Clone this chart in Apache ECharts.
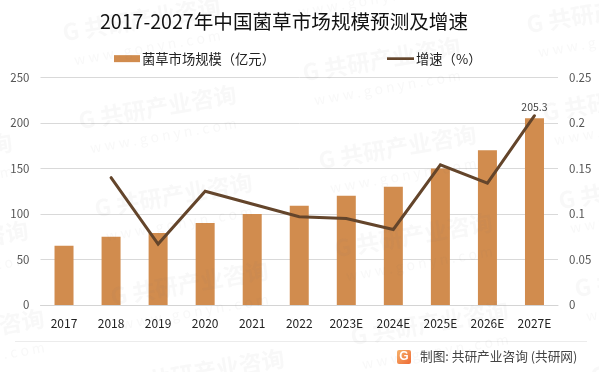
<!DOCTYPE html>
<html><head><meta charset="utf-8">
<style>html,body{margin:0;padding:0;background:#fff}#c{width:599px;height:372px}</style>
<script src="https://cdn.jsdelivr.net/npm/echarts@6/dist/echarts.min.js"></script>
</head><body><div id="c"></div>
<script>
const categories = ['2017','2018','2019','2020','2021','2022','2023E','2024E','2025E','2026E','2027E'];
const marketSize = [65,75,79,90,100,109,120,130,150,170,205.3];
const growth = [null,0.14,0.067,0.125,0.111,0.097,0.095,0.083,0.154,0.134,0.208];
const leftTicks = [0,50,100,150,200,250];
const titleText = '2017-2027年中国菌草市场规模预测及增速';
const sourceText = '制图: 共研产业咨询 (共研网)';
const barName = '菌草市场规模（亿元）';
const lineName = '增速（%）';
const font = '"Noto Sans CJK SC","Noto Sans",sans-serif';

const wm = [];
for (let i = -1; i <= 2; i++) for (let j = -1; j <= 4; j++) {
  const x = 65 + 240*i + 16*j, y = 45 + 40*i + 88*j;
  if (y < -30 || y > 400 || x > 620) continue;
  wm.push({type:'text',x:x,y:y,rotation:0.17,silent:true,z:50,
    style:{text:'G 共研产业咨询',x:0,y:-24,font:'bold 23px '+font,fill:'rgba(120,120,120,0.05)',textBaseline:'top'}});
  wm.push({type:'text',x:x+8,y:y+8,rotation:0.17,silent:true,z:50,
    style:{text:'w w w . g o n y n . c o m',x:0,y:0,font:'14px '+font,fill:'rgba(120,120,120,0.05)',textBaseline:'top'}});
}
const chart = echarts.init(document.getElementById('c'),null,{renderer:'canvas'});
chart.setOption({
  animation:false,
  backgroundColor:'#fff',
  title:{text:titleText,left:279,top:7,textAlign:'center',
    textStyle:{fontFamily:font,fontSize:19.6,fontWeight:'normal',color:'#111'}},
  legend:[
    {data:[{name:barName,icon:'rect'}],left:109,top:47,itemWidth:26,itemHeight:7,itemGap:3,
     textStyle:{fontFamily:font,fontSize:13.3,color:'#222',padding:[0,0,0,-3]}},
    {data:[{name:lineName,icon:'path://M0 0H10V1H0Z'}],left:382,top:47,itemWidth:27,itemHeight:3,
     textStyle:{fontFamily:font,fontSize:13.3,color:'#222',padding:[0,0,0,-3]}}
  ],
  grid:{left:40.5,right:41,top:77.5,bottom:67,containLabel:false},
  xAxis:{type:'category',data:categories,
    axisLine:{lineStyle:{color:'#d4d4d4',width:1}},axisTick:{show:false},
    axisLabel:{fontFamily:font,fontSize:12,color:'#222',margin:12,interval:0}},
  yAxis:[
    {type:'value',min:0,max:250,interval:50,
     axisLine:{show:false},axisTick:{show:false},
     splitLine:{lineStyle:{color:'#d9d9d9',width:1}},
     axisLabel:{fontFamily:font,fontSize:11.5,color:'#555',margin:11,
       formatter:v=>leftTicks.includes(v)?String(v):''}},
    {type:'value',min:0,max:0.25,interval:0.05,
     axisLine:{show:false},axisTick:{show:false},splitLine:{show:false},
     axisLabel:{fontFamily:font,fontSize:11.5,color:'#555',margin:11,formatter:v=>String(+v.toFixed(2))}}
  ],
  series:[
    {name:barName,type:'bar',data:marketSize.map((v,i)=>i===marketSize.length-1
        ?{value:v,label:{show:true,position:'top',distance:6,fontFamily:font,fontSize:10.5,color:'#444'}}:v),
     barWidth:19,itemStyle:{color:'#d18c4e'}},
    {name:lineName,type:'line',yAxisIndex:1,data:growth,symbol:'none',smooth:false,connectNulls:false,
     lineStyle:{color:'#64452b',width:3,cap:'round',join:'miter'},itemStyle:{color:'#64452b'},z:5}
  ],
  graphic:wm.concat([
    {type:'rect',silent:true,z:40,shape:{x:15,y:341,width:572,height:1},style:{fill:'#ececec'}},
    {type:'rect',silent:true,z:60,shape:{x:397,y:350,width:14,height:14,r:2},
     style:{fill:new echarts.graphic.LinearGradient(0,0,1,1,[{offset:0,color:'#f6b26b'},{offset:1,color:'#ee6a35'}])}},
    {type:'text',silent:true,z:61,style:{text:'G',x:404,y:357,fontFamily:'"Liberation Sans",sans-serif',fontSize:12,fontWeight:'bold',fill:'#fff',align:'center',verticalAlign:'middle'}},
    {type:'text',silent:true,z:60,style:{text:sourceText,x:420,y:350,font:'12.7px '+font,fill:'#444'}}
  ])
});
</script></body></html>
